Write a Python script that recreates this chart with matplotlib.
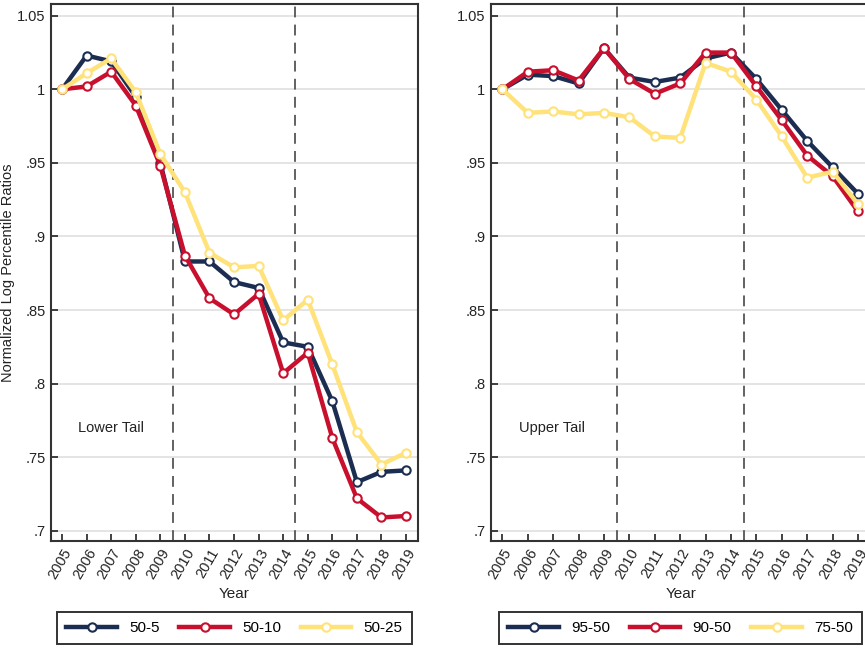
import matplotlib
matplotlib.use('Agg')
import matplotlib.pyplot as plt

plt.rcParams['font.family'] = ['Liberation Sans', 'DejaVu Sans']

years = list(range(2005, 2020))

# lower tail
p50_5  = [1.000, 1.023, 1.019, 0.995, 0.950, 0.883, 0.883, 0.869, 0.865, 0.828,
          0.825, 0.788, 0.733, 0.740, 0.741]
p50_10 = [1.000, 1.002, 1.012, 0.989, 0.948, 0.887, 0.858, 0.847, 0.861, 0.807,
          0.821, 0.763, 0.722, 0.709, 0.710]
p50_25 = [1.000, 1.011, 1.021, 0.998, 0.956, 0.930, 0.889, 0.879, 0.880, 0.843,
          0.857, 0.813, 0.767, 0.745, 0.753]

# upper tail
p95_50 = [1.000, 1.010, 1.009, 1.004, 1.028, 1.008, 1.005, 1.008, 1.021, 1.025,
          1.007, 0.986, 0.965, 0.947, 0.929]
p90_50 = [1.000, 1.012, 1.013, 1.006, 1.028, 1.007, 0.997, 1.004, 1.025, 1.025,
          1.002, 0.979, 0.955, 0.941, 0.917]
p75_50 = [1.000, 0.984, 0.985, 0.983, 0.984, 0.981, 0.968, 0.967, 1.018, 1.012,
          0.993, 0.968, 0.940, 0.944, 0.922]

yticks = [0.7, 0.75, 0.8, 0.85, 0.9, 0.95, 1.0, 1.05]
ytick_labels = ['.7', '.75', '.8', '.85', '.9', '.95', '1', '1.05']
breaks = [2009.5, 2014.5]

NAVY = '#1c2d52'
RED = '#c8102e'
YELLOW = '#ffe27a'

fig = plt.figure(figsize=(8.65, 6.49), dpi=100)
ax1 = fig.add_axes([0.059, 0.1664, 0.4243, 0.8274])
ax2 = fig.add_axes([0.5676, 0.1664, 0.4387, 0.8274])


def draw_panel(ax, series, labels, note):
    for ys, lab, col in zip(series, labels, [NAVY, RED, YELLOW]):
        ax.plot(years, ys, color=col, linewidth=3.2, marker='o', markersize=6,
                markerfacecolor='white', markeredgecolor=col,
                markeredgewidth=1.5, label=lab, zorder=3)
    for b in breaks:
        ax.axvline(b, color='#555555', linestyle=(0, (6, 4)), linewidth=1.3,
                   zorder=2)
    ax.set_xlim(2004.55, 2019.49)
    ax.set_ylim(0.693, 1.058)
    ax.set_yticks(yticks)
    ax.set_yticklabels(ytick_labels, fontsize=10.5, color='#222222')
    ax.set_xticks(years)
    ax.set_xticklabels([str(y) for y in years], rotation=60, ha='right',
                       rotation_mode='anchor', fontsize=10.5, color='#222222')
    ax.tick_params(direction='in', length=5, width=1.2, color='#222222',
                   pad=4)
    ax.grid(axis='y', color='#e2e2e2', linewidth=1.3, zorder=1)
    ax.set_axisbelow(True)
    for s in ax.spines.values():
        s.set_color('#333333')
        s.set_linewidth(1.5)
    ax.set_xlabel('Year', fontsize=11, color='#222222', labelpad=4)
    ax.text(2005.64, 0.770, note, fontsize=10.5, va='center', ha='left',
            color='#222222')
    leg = ax.legend(loc='center', ncol=3, fontsize=11,
                    handlelength=3.3, handletextpad=0.8, columnspacing=1.3,
                    fancybox=False, edgecolor='#333333', framealpha=1,
                    borderpad=0.6, borderaxespad=0)
    leg.get_frame().set_linewidth(1.4)
    return leg


l1 = draw_panel(ax1, [p50_5, p50_10, p50_25], ['50-5', '50-10', '50-25'],
                'Lower Tail')
l2 = draw_panel(ax2, [p95_50, p90_50, p75_50], ['95-50', '90-50', '75-50'],
                'Upper Tail')

# legends sit below each panel, centred on it
for leg, ax in [(l1, ax1), (l2, ax2)]:
    pos = ax.get_position()
    leg.set_bbox_to_anchor((pos.x0 + pos.width / 2, 0.0324),
                           transform=fig.transFigure)

ax1.set_ylabel('Normalized Log Percentile Ratios', fontsize=10.5,
               color='#222222')
ax1.yaxis.set_label_coords(-0.098, 0.5)

fig.savefig('out.png', dpi=100)
